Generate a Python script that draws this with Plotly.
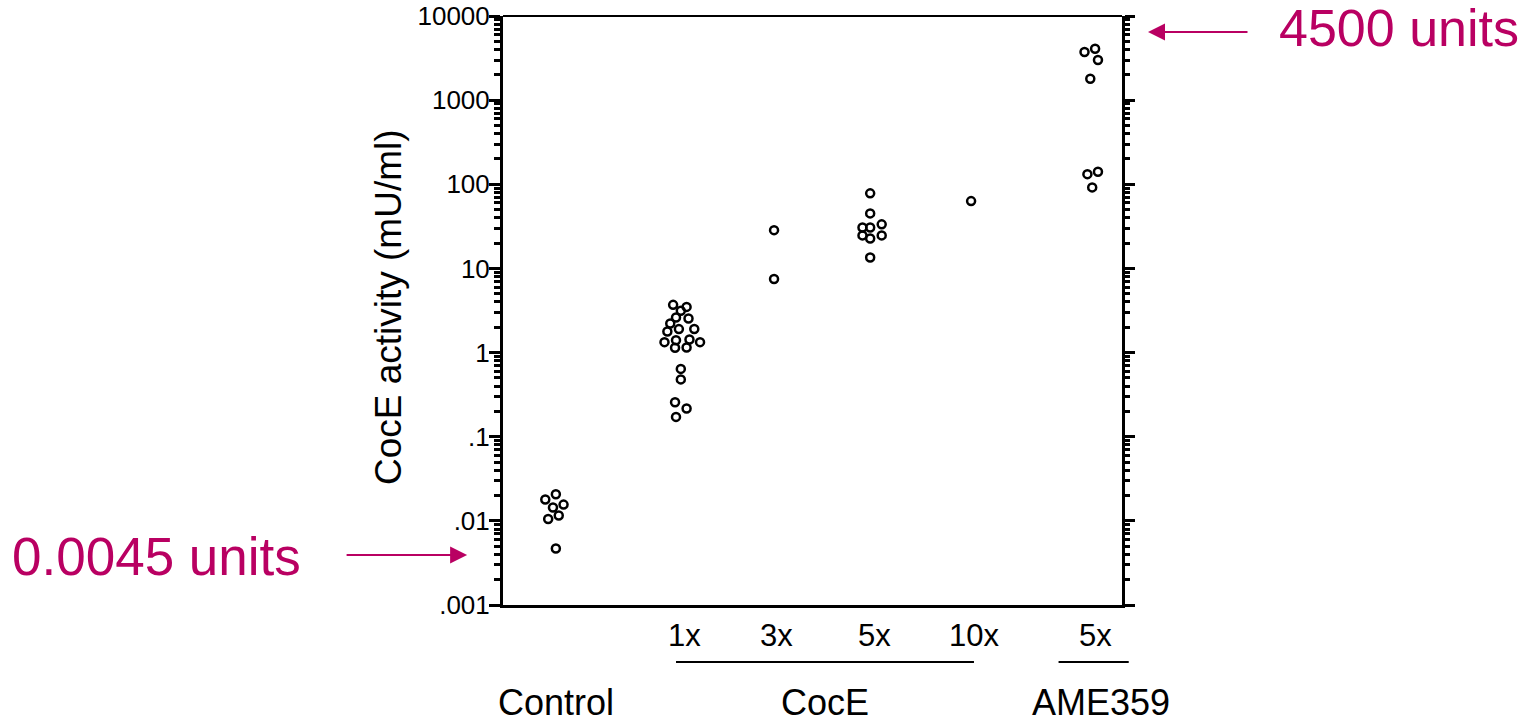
import plotly.graph_objects as go

# ---------------- data ----------------
groups = ["Control", "1x", "3x", "5x", "10x", "AME 5x"]
group_pos = [0.55, 1.86, 2.82, 3.83, 4.87, 6.13]

control_vals = [0.0179, 0.0207, 0.0144, 0.0156, 0.0105, 0.0116, 0.0047]
coce1_vals = [3.69, 3.49, 3.13, 2.61, 2.54, 2.22, 1.90, 1.91, 1.78, 1.33,
              1.40, 1.43, 1.33, 1.14, 1.15, 0.64, 0.48, 0.257, 0.216, 0.172]
coce3_vals = [28.5, 7.5]
coce5_vals = [78.0, 45.1, 30.7, 30.7, 33.4, 24.7, 22.7, 24.7, 13.5]
coce10_vals = [63.1]
ame5_vals = [3730, 4085, 3000, 1795, 132, 141, 91.8]

# horizontal scatter (jitter) of the points inside each column
control_jit = [-0.11, 0.0, -0.03, 0.08, -0.08, 0.03, 0.0]
coce1_jit = [-0.09, 0.05, -0.01, -0.06, 0.07, -0.12, -0.03, 0.13, -0.15, -0.18,
             -0.06, 0.08, 0.19, -0.07, 0.05, -0.01, -0.01, -0.07, 0.05, -0.06]
coce3_jit = [0.0, 0.0]
coce5_jit = [-0.01, -0.01, -0.09, -0.01, 0.11, -0.09, -0.01, 0.11, -0.01]
coce10_jit = [0.0]
ame5_jit = [-0.08, 0.03, 0.06, -0.02, -0.05, 0.06, 0.0]

dose_labels = ["1x", "3x", "5x", "10x", "5x"]
group_labels = ["Control", "CocE", "AME359"]

ytick_vals = [0.001, 0.01, 0.1, 1, 10, 100, 1000, 10000]
ytick_text = [".001", ".01", ".1", "1", "10", "100", "1000", "10000"]

# --------------- figure ---------------
MAG = "#B90062"
FONT = "Liberation Sans, Arial, sans-serif"
XMAX = 6.44

all_vals = [control_vals, coce1_vals, coce3_vals, coce5_vals, coce10_vals, ame5_vals]
all_jit = [control_jit, coce1_jit, coce3_jit, coce5_jit, coce10_jit, ame5_jit]

fig = go.Figure()
for name, pos, vals, jit in zip(groups, group_pos, all_vals, all_jit):
    fig.add_trace(go.Scatter(
        x=[pos + j for j in jit], y=vals, mode="markers", name=name,
        marker=dict(symbol="circle-open", size=8, color="black",
                    line=dict(width=2.5, color="black")),
        cliponaxis=False, showlegend=False))

# invisible copy to activate the right-hand axis
fig.add_trace(go.Scatter(x=[group_pos[0] + j for j in control_jit], y=control_vals,
                         yaxis="y2", mode="markers", marker=dict(opacity=0),
                         hoverinfo="skip", showlegend=False))

minor_vals = [m * 10 ** k for k in range(-3, 4) for m in range(2, 10)]

yax_common = dict(
    type="log", range=[-3, 4], showline=True, linewidth=3, linecolor="black",
    ticks="outside", tickwidth=3, tickcolor="black",
    tickmode="array", tickvals=ytick_vals, ticktext=ytick_text,
    showgrid=False, zeroline=False, automargin=False,
    minor=dict(tickmode="array", tickvals=minor_vals, ticks="outside",
               ticklen=6, tickwidth=2.5, tickcolor="black", showgrid=False),
)

fig.update_layout(
    width=1540, height=722,
    margin=dict(l=503, r=418, t=16, b=117, pad=0),
    plot_bgcolor="white", paper_bgcolor="white",
    font=dict(family=FONT, color="black"),
    showlegend=False,
    xaxis=dict(range=[0, XMAX], showline=True, linewidth=3, linecolor="black",
               showticklabels=False, ticks="", showgrid=False, zeroline=False,
               automargin=False),
    yaxis=dict(**yax_common, ticklen=11, ticklabelstandoff=-6,
               tickfont=dict(size=26, family=FONT)),
    yaxis2=dict(**yax_common, ticklen=10, overlaying="y", side="right",
                anchor="x", showticklabels=False),
)
fig.update_layout(yaxis2_minor_ticklen=5)

# top frame line
fig.add_shape(type="line", xref="paper", yref="paper", x0=0, x1=1, y0=1, y1=1,
              line=dict(color="black", width=2))

# dose labels under the axis
for lab, pos in zip(dose_labels, group_pos[1:]):
    fig.add_annotation(x=pos + 0.03, y=-0.0526, xref="x", yref="paper", text=lab,
                       showarrow=False, xanchor="center", yanchor="middle",
                       font=dict(size=31, family=FONT, color="black"))

# group brackets
brackets = [(1.80, 4.90), (5.78, 6.51)]
for a, b in brackets:
    fig.add_shape(type="line", xref="paper", yref="paper",
                  x0=a / XMAX, x1=b / XMAX, y0=-0.0968, y1=-0.0968,
                  line=dict(color="black", width=2))

# group labels
group_label_pos = [group_pos[0], (brackets[0][0] + brackets[0][1]) / 2, 6.22]
for lab, pos in zip(group_labels, group_label_pos):
    fig.add_annotation(x=pos, y=-0.166, xref="x", yref="paper", text=lab,
                       showarrow=False, xanchor="center", yanchor="middle",
                       font=dict(size=36, family=FONT, color="black"))

# y axis title
fig.add_annotation(x=-0.184, y=0.506, xref="paper", yref="paper",
                   text="CocE activity (mU/ml)", textangle=-90, showarrow=False,
                   xanchor="center", yanchor="middle",
                   font=dict(size=37, family=FONT, color="black"))

# magenta call-outs
fig.add_annotation(x=1.042, y=0.973, xref="paper", yref="paper", text="",
                   showarrow=True, ax=101, ay=0, arrowhead=2, arrowsize=1.7,
                   arrowwidth=2, arrowcolor=MAG, standoff=0)
fig.add_annotation(x=1.250, y=0.980, xref="paper", yref="paper", text="4500 units",
                   showarrow=False, xanchor="left", yanchor="middle",
                   font=dict(size=52, family=FONT, color=MAG))
fig.add_annotation(x=-0.058, y=0.0849, xref="paper", yref="paper", text="",
                   showarrow=True, ax=-122, ay=0, arrowhead=2, arrowsize=1.7,
                   arrowwidth=2, arrowcolor=MAG, standoff=0)
fig.add_annotation(x=-0.323, y=0.0815, xref="paper", yref="paper", text="0.0045 units",
                   showarrow=False, xanchor="right", yanchor="middle",
                   font=dict(size=53, family=FONT, color=MAG))

fig.write_html("out.html", config={"displayModeBar": False},
               post_script="document.body.style.margin='0';")
